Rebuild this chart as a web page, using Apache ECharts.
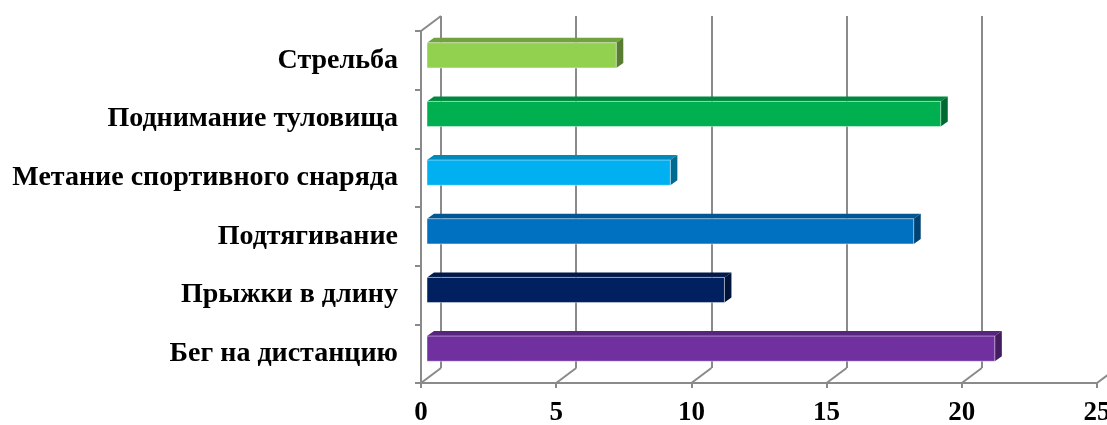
<!DOCTYPE html>
<html><head><meta charset="utf-8">
<script src="https://cdn.jsdelivr.net/npm/echarts@6/dist/echarts.min.js"></script>
<style>html,body{margin:0;padding:0;background:#fff}#c{width:1107px;height:425px}</style>
</head><body><div id="c"></div>
<script>
const categories = ['Бег на дистанцию','Прыжки в длину','Подтягивание','Метание спортивного снаряда','Поднимание туловища','Стрельба'];
const values = [21, 11, 18, 9, 19, 7];
const colors = ['#7030A0','#002060','#0070C0','#00B0F0','#00B050','#92D050'];
const xTicks = [0, 5, 10, 15, 20, 25];

function shade(hex, f){
  const n = parseInt(hex.slice(1),16);
  const r = Math.round(((n>>16)&255)*f), g = Math.round(((n>>8)&255)*f), b = Math.round((n&255)*f);
  return 'rgb('+r+','+g+','+b+')';
}
const GRID = '#8a8a8a';
const FONT = 'Liberation Serif';
const DEPTH_X = 20, DEPTH_Y = -15;

function barItem(params, api){
  const v = api.value(0), ci = api.value(1);
  const s = api.coord([0, ci]), e = api.coord([v, ci]);
  const band = api.size([0, 1])[1];
  const h = band * 0.43;
  const ox = 6, oy = -5, dx = 7, dy = -5;
  const x0 = s[0] + ox, x1 = e[0] + ox, yc = s[1] + oy;
  const t = yc - h/2, b = yc + h/2;
  const c = colors[params.dataIndex];
  return {type:'group', children:[
    {type:'polygon', shape:{points:[[x0,t],[x0+dx,t+dy],[x1+dx,t+dy],[x1,t]]}, style:{fill:shade(c,0.78)}},
    {type:'polygon', shape:{points:[[x1,t],[x1+dx,t+dy],[x1+dx,b+dy],[x1,b]]}, style:{fill:shade(c,0.6)}},
    {type:'rect', shape:{x:x0, y:t, width:x1-x0, height:h}, style:{fill:c, stroke:'rgba(255,255,255,0.45)', lineWidth:1}}
  ]};
}

function diagItem(params, api){
  const v = api.value(0);
  const cs = params.coordSys;
  const p = api.coord([v, 0]);
  const x = p[0], yb = cs.y + cs.height;
  const children = [{type:'line', shape:{x1:x, y1:yb, x2:x+DEPTH_X, y2:yb+DEPTH_Y}, style:{stroke:GRID, lineWidth:2}}];
  if (params.dataIndex === 0) {
    children.push({type:'line', shape:{x1:x, y1:cs.y, x2:x+DEPTH_X, y2:cs.y+DEPTH_Y}, style:{stroke:GRID, lineWidth:2}});
  }
  return {type:'group', children};
}

const chart = echarts.init(document.getElementById('c'), null, {renderer:'canvas'});
chart.setOption({
  animation:false,
  grid:[
    {left:421, top:31, width:676, height:352, outerBoundsMode:'none', containLabel:false},
    {left:441, top:16, width:676, height:352, outerBoundsMode:'none', containLabel:false}
  ],
  xAxis:[
    {gridIndex:0, type:'value', min:0, max:25, interval:5,
     axisLine:{show:true, lineStyle:{color:GRID, width:2}},
     axisTick:{show:true, length:5, lineStyle:{color:GRID, width:2}},
     splitLine:{show:false},
     axisLabel:{color:'#000', fontFamily:FONT, fontWeight:'bold', fontSize:27, margin:17}},
    {gridIndex:1, type:'value', min:0, max:25, interval:5,
     axisLine:{show:false}, axisTick:{show:false}, axisLabel:{show:false},
     splitLine:{show:true, lineStyle:{color:GRID, width:2}}}
  ],
  yAxis:[
    {gridIndex:0, type:'category', data:categories,
     axisLine:{show:true, lineStyle:{color:GRID, width:2}},
     axisTick:{show:true, length:6, lineStyle:{color:GRID, width:2}},
     axisLabel:{color:'#000', fontFamily:FONT, fontWeight:'bold', fontSize:28, margin:23, padding:[5,0,0,0]}},
    {gridIndex:1, type:'value', min:0, max:1, show:false}
  ],
  series:[
    {type:'custom', xAxisIndex:0, yAxisIndex:0, renderItem:diagItem, data:xTicks.map(v=>[v,0]), z:1, silent:true},
    {type:'custom', xAxisIndex:0, yAxisIndex:0, renderItem:barItem, encode:{x:0,y:1},
     data:values.map((v,i)=>[v,i]), z:5}
  ]
});
</script></body></html>
